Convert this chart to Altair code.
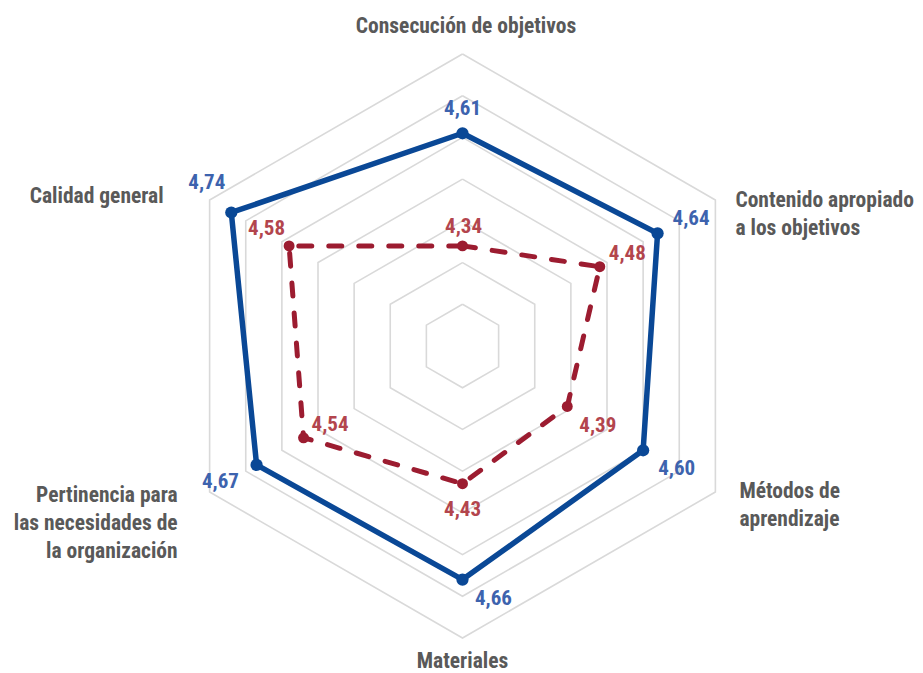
import altair as alt
import pandas as pd

# ---------------- data ----------------
categories = [
    "Consecución de objetivos",
    "Contenido apropiado a los objetivos",
    "Métodos de aprendizaje",
    "Materiales",
    "Pertinencia para las necesidades de la organización",
    "Calidad general",
]
category_lines = [
    "Consecución de objetivos",
    "Contenido apropiado\na los objetivos",
    "Métodos de\naprendizaje",
    "Materiales",
    "Pertinencia para\nlas necesidades de\nla organización",
    "Calidad general",
]
series_names = ["Serie 1", "Serie 2"]
blue_values = [4.61, 4.64, 4.60, 4.66, 4.67, 4.74]
red_values = [4.34, 4.48, 4.39, 4.43, 4.54, 4.58]
ring_values = [4.2, 4.3, 4.4, 4.5, 4.6, 4.7, 4.8]
scale_min = 4.1

# ---------------- layout / style ----------------
FONT = "'Roboto Condensed', 'Liberation Sans Narrow', 'DejaVu Sans Condensed', 'Noto Sans', sans-serif"
BLUE_LINE = "#0a4896"
BLUE_TEXT = "#3d63ae"
RED_LINE = "#9c1c30"
RED_TEXT = "#b3454d"
GRID = "#d9d9d9"
LABEL = "#595959"

n = len(categories)

series_rows = []
for name, vals in zip(series_names, [blue_values, red_values]):
    for k in range(n + 1):
        series_rows.append({"series": name, "k": k, "idx": k % n,
                            "category": categories[k % n], "value": vals[k % n]})
series_df = pd.DataFrame(series_rows)

ring_rows = []
for rv in ring_values:
    for k in range(n + 1):
        ring_rows.append({"ring": rv, "k": k, "value": rv})
ring_df = pd.DataFrame(ring_rows)

cat_df = pd.DataFrame({"idx": list(range(n)), "category": categories,
                       "text": category_lines, "value": [ring_values[-1]] * n})

W, H = 907, 668
PX = 292 / 0.7          # pixels per value unit
CX, CY = 454.5, 338     # centre inside the plot area
xs = alt.Scale(domain=[-CX / PX, (W - CX) / PX], nice=False, zero=False)
ys = alt.Scale(domain=[-(H - CY) / PX, CY / PX], nice=False, zero=False)
X = alt.X("px:Q", scale=xs, axis=None)
Y = alt.Y("py:Q", scale=ys, axis=None)


def polar(chart, kfield="k"):
    return chart.transform_calculate(
        ang=f"datum.{kfield} * 2 * PI / {n}",
    ).transform_calculate(
        px=f"(datum.value - {scale_min}) * sin(datum.ang)",
        py=f"(datum.value - {scale_min}) * cos(datum.ang)",
    )


grid = polar(alt.Chart(ring_df).mark_line(color=GRID, strokeWidth=1.6)).encode(
    x=X, y=Y, detail="ring:N", order="k:Q"
)

base_series = alt.Chart(series_df)
blue_line = polar(base_series.transform_filter(f"datum.series == '{series_names[0]}'")
                  .mark_line(color=BLUE_LINE, strokeWidth=5.5, strokeJoin="miter")).encode(
    x=X, y=Y, order="k:Q"
)
red_line = polar(base_series.transform_filter(f"datum.series == '{series_names[1]}'")
                 .mark_line(color=RED_LINE, strokeWidth=5, strokeDash=[13, 17],
                            strokeCap="round", strokeJoin="round")).encode(
    x=X, y=Y, order="k:Q"
)
blue_pts = polar(base_series.transform_filter(
    f"datum.series == '{series_names[0]}' && datum.k < {n}")
    .mark_circle(color=BLUE_LINE, opacity=1, size=150)).encode(x=X, y=Y)
red_pts = polar(base_series.transform_filter(
    f"datum.series == '{series_names[1]}' && datum.k < {n}")
    .mark_circle(color=RED_LINE, opacity=1, size=120)).encode(x=X, y=Y)

layers = [grid, blue_line, red_line, blue_pts, red_pts]

# value labels: (align, dx, dy) per category
blue_off = [("center", 0, -18), ("left", 15, -8), ("left", 15, 25),
            ("left", 12.5, 25.5), ("right", -17.6, 23), ("right", -6, -23.5)]
red_off = [("center", 1, -13), ("left", 9, -7), ("left", 12, 25.5),
           ("center", 0, 32), ("left", 8, -7), ("right", -4, -11)]

for name, offs, col in [(series_names[0], blue_off, BLUE_TEXT),
                        (series_names[1], red_off, RED_TEXT)]:
    for i, (al, dx, dy) in enumerate(offs):
        t = polar(base_series.transform_filter(
            f"datum.series == '{name}' && datum.k == {i}")
            .mark_text(font=FONT, fontSize=21, fontWeight="bold", color=col,
                       align=al, baseline="alphabetic", dx=dx, dy=dy)
        ).transform_calculate(
            lbl="replace(format(datum.value, '.2f'), '.', ',')"
        ).encode(x=X, y=Y, text="lbl:N")
        layers.append(t)

# category labels
cat_off = [("center", 3.5, -21), ("left", 20, 7), ("left", 24, 6),
           ("center", 0, 30), ("right", -32, 10), ("right", -46, 3)]
for i, (al, dx, dy) in enumerate(cat_off):
    t = polar(alt.Chart(cat_df).transform_filter(f"datum.idx == {i}")
              .mark_text(font=FONT, fontSize=21.5, fontWeight="bold", color=LABEL,
                         align=al, baseline="alphabetic", dx=dx, dy=dy,
                         lineBreak="\n", lineHeight=28),
              kfield="idx").encode(x=X, y=Y, text="text:N")
    layers.append(t)

chart = alt.layer(*layers).properties(
    width=W, height=H, padding=0, background="white",
    autosize=alt.AutoSizeParams(type="none"),
).configure_view(stroke="transparent", strokeWidth=0)

chart.save("out.html", embed_options={"renderer": "svg", "actions": False})
